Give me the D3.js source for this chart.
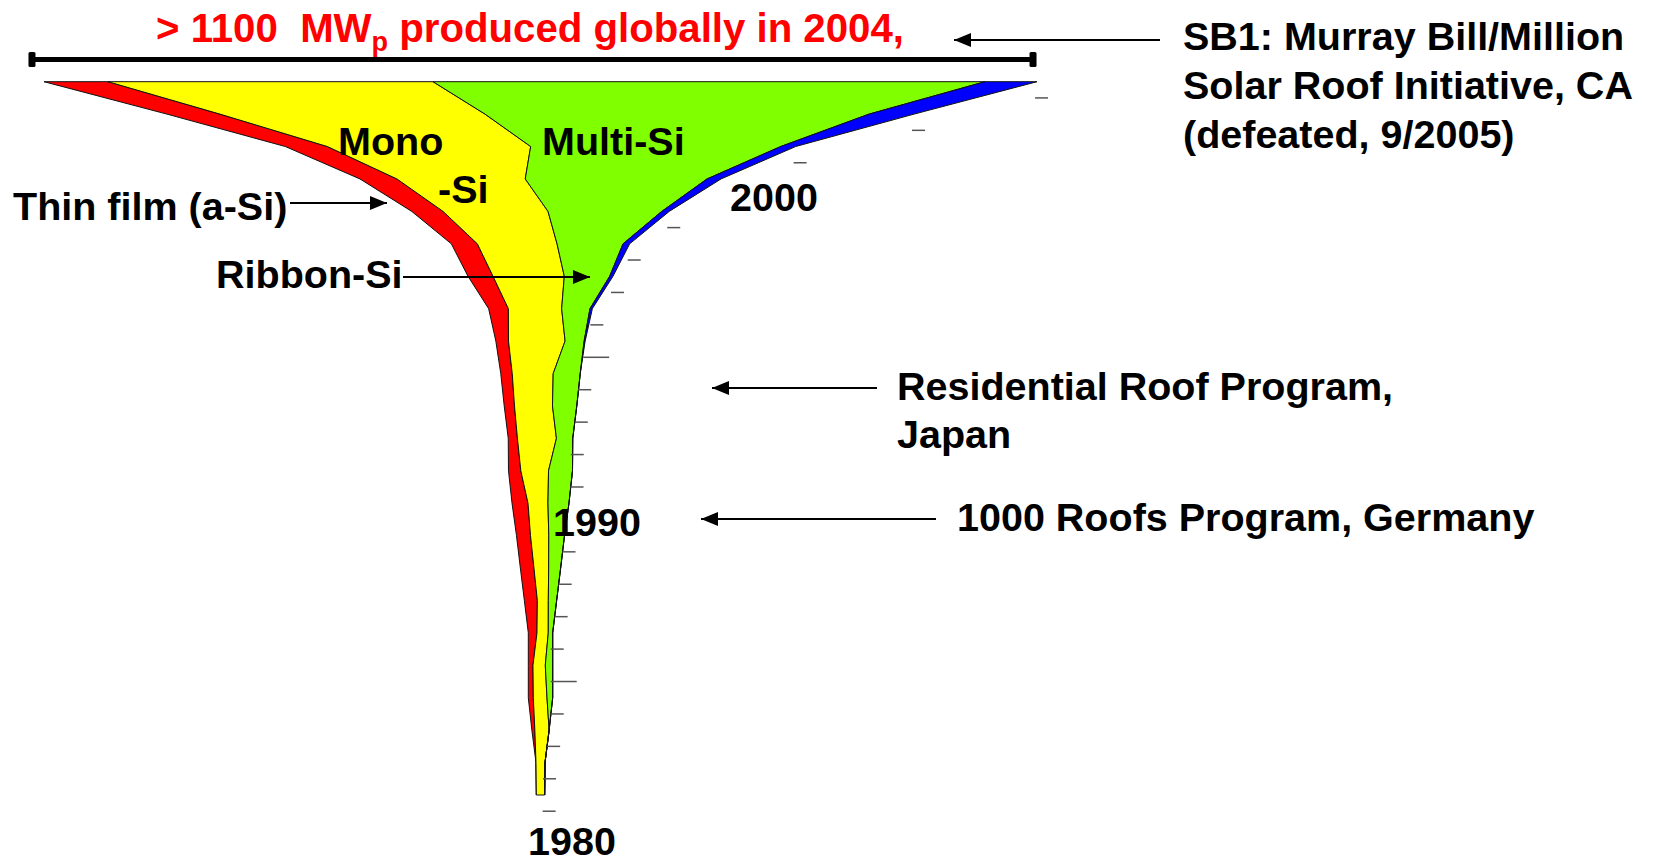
<!DOCTYPE html>
<html>
<head>
<meta charset="utf-8">
<script src="https://cdn.jsdelivr.net/npm/d3@7"></script>
<style>
  body { margin: 0; background: #fff; }
  svg text { font-family: 'Liberation Sans', Arial, sans-serif; font-weight: bold; font-size: 39.5px; white-space: pre; }
</style>
</head>
<body>
<svg width="1653" height="862"></svg>
<script>
// production by technology, MWp per year
const years = [1982, 1983, 1984, 1985, 1986, 1987, 1988, 1989, 1990, 1991, 1992, 1993,
	1994, 1995, 1996, 1997, 1998, 1999, 2000, 2001, 2002, 2003, 2004];
const thinFilm = [0, 0, 3.5, 5.9, 5.5, 10.2, 15.3, 16.0, 16.5, 18.8, 14.5, 10.8,
	12.1, 13.5, 14.9, 23.2, 29.4, 30.6, 36.8, 43.5, 49.4, 62.4, 75.3];
const monoSi = [9.8, 10.6, 16.8, 16.1, 14.5, 13.3, 12.9, 17.3, 21.5, 23.5, 32.6, 45.9,
	44.7, 48.2, 66.6, 62.7, 83.9, 93.8, 123.5, 150.9, 239.2, 311.8, 382.4];
const multiSi = [0, 0, 0, 6.7, 8.7, 5.2, 9.8, 14.1, 18.5, 24.7, 28.2, 19.2,
	28.6, 31.8, 22.4, 33.3, 53.4, 77.6, 133.8, 213.8, 294.1, 451.8, 649.4];
const ribbonSi = [0, 0, 0, 0, 0, 0, 0, 0, 0, 0, 0, 0,
	0, 0, 1.2, 2.8, 3.9, 7.8, 8.8, 16.5, 17.6, 52.9, 61.2];

const technologies = ['Thin film', 'Mono-Si', 'Multi-Si', 'Ribbon-Si'];
const yearLabels = [1980, 1990, 2000];
const longTickYears = [1986, 1996];

const colors = ['#ff0000', '#ffff00', '#80ff00', '#0000ff'];

const svg = d3.select('svg');

const table = years.map((year, i) => ({
	year,
	'Thin film': thinFilm[i],
	'Mono-Si': monoSi[i],
	'Multi-Si': multiSi[i],
	'Ribbon-Si': ribbonSi[i],
}));

const series = d3.stack().keys(technologies).offset(d3.stackOffsetSilhouette)(table);

const yScale = d3.scaleLinear().domain([1982, 2004]).range([795, 81.7]);
const xScale = d3.scaleLinear().domain([-600, 600]).range([30.5, 1050.5]);
const colorScale = d3.scaleOrdinal().domain(technologies).range(colors);

const area = d3
	.area()
	.y(d => yScale(d.data.year))
	.x0(d => xScale(d[0]))
	.x1(d => xScale(d[1]));

svg
	.append('g')
	.selectAll('path')
	.data(series)
	.join('path')
	.attr('d', area)
	.attr('fill', d => colorScale(d.key))
	.attr('stroke', '#111')
	.attr('stroke-width', 1);

// year ticks sit half a year below each point, just off the right edge
// (the ones under a year label are left out)
const outer = series[series.length - 1];
svg
	.append('g')
	.selectAll('line')
	.data(outer.filter(d => !yearLabels.includes(d.data.year - 1)))
	.join('line')
	.attr('x1', d => xScale(d[1]) - 2)
	.attr('x2', d => xScale(d[1]) - 2 + (longTickYears.includes(d.data.year) ? 26 : 13))
	.attr('y1', d => yScale(d.data.year - 0.5))
	.attr('y2', d => yScale(d.data.year - 0.5))
	.attr('stroke', '#555')
	.attr('stroke-width', 1.5);

const yearLabelX = { 1980: 528, 1990: 553, 2000: 730 };
svg
	.append('g')
	.selectAll('text')
	.data(yearLabels)
	.join('text')
	.attr('x', d => yearLabelX[d])
	.attr('y', d => Math.min(yScale(d), 855))
	.text(d => d);

// 2004 span bar
const first2004 = series[0][series[0].length - 1][0];
const last2004 = outer[outer.length - 1][1];
const barEnds = [xScale(first2004) - 12, xScale(last2004) - 4];
const barG = svg.append('g');
barG
	.append('line')
	.attr('x1', barEnds[0])
	.attr('x2', barEnds[1])
	.attr('y1', 59.5)
	.attr('y2', 59.5)
	.attr('stroke', '#000')
	.attr('stroke-width', 5);
barG
	.selectAll('rect')
	.data(barEnds)
	.join('rect')
	.attr('x', d => d - 3.5)
	.attr('y', 52)
	.attr('width', 7)
	.attr('height', 15)
	.attr('rx', 1.5)
	.attr('fill', '#000');

const title = svg.append('text').attr('x', 156).attr('y', 42).attr('fill', '#ff0000').style('font-size', '40.2px');
title.append('tspan').text('> 1100  MW');
title.append('tspan').attr('dy', 9).style('font-size', '27px').text('p');
title.append('tspan').attr('dy', -9).text(' produced globally in 2004,');

// arrows
svg
	.append('defs')
	.append('marker')
	.attr('id', 'arrow')
	.attr('markerUnits', 'userSpaceOnUse')
	.attr('viewBox', '0 0 17 14')
	.attr('refX', 17)
	.attr('refY', 7)
	.attr('markerWidth', 17)
	.attr('markerHeight', 14)
	.attr('orient', 'auto')
	.append('path')
	.attr('d', 'M0,0 L17,7 L0,14 Z')
	.attr('fill', '#000');

const arrows = [
	[290, 203, 387, 203],
	[403, 277, 590, 277],
	[1160, 40, 954, 40],
	[877, 388, 712, 388],
	[936, 519, 701, 519],
];
svg
	.append('g')
	.selectAll('line')
	.data(arrows)
	.join('line')
	.attr('x1', d => d[0])
	.attr('y1', d => d[1])
	.attr('x2', d => d[2])
	.attr('y2', d => d[3])
	.attr('stroke', '#000')
	.attr('stroke-width', 2)
	.attr('marker-end', 'url(#arrow)');

const notes = [
	{ x: 13, y: 220, gap: 0, lines: ['Thin film (a-Si)'] },
	{ x: 216, y: 288, gap: 0, lines: ['Ribbon-Si'] },
	{ x: 338, y: 155, gap: 0, lines: ['Mono'] },
	{ x: 438, y: 203, gap: 0, lines: ['-Si'] },
	{ x: 542, y: 155, gap: 0, lines: ['Multi-Si'] },
	{ x: 1183, y: 50, gap: 49, lines: ['SB1: Murray Bill/Million', 'Solar Roof Initiative, CA', '(defeated, 9/2005)'] },
	{ x: 897, y: 400, gap: 48, lines: ['Residential Roof Program,', 'Japan'] },
	{ x: 957, y: 531, gap: 0, lines: ['1000 Roofs Program, Germany'] },
];
notes.forEach(n => {
	const t = svg.append('text').attr('x', n.x).attr('y', n.y).attr('fill', '#000');
	n.lines.forEach((line, i) => {
		t.append('tspan').attr('x', n.x).attr('dy', i === 0 ? 0 : n.gap).text(line);
	});
});
</script>
</body>
</html>
